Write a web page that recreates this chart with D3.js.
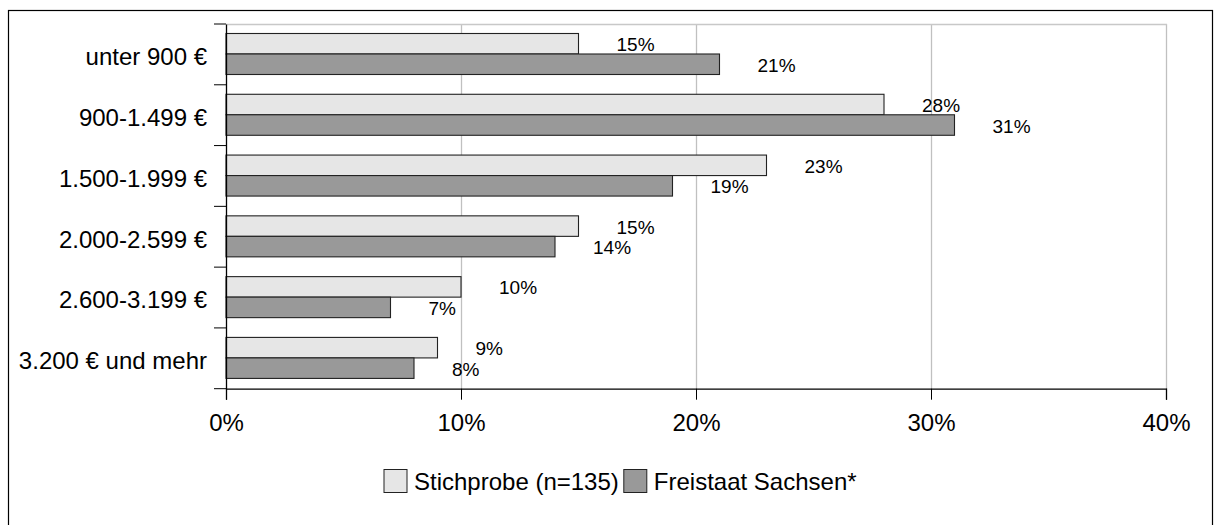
<!DOCTYPE html>
<html>
<head>
<meta charset="utf-8">
<script src="https://cdn.jsdelivr.net/npm/d3@7"></script>
<style>
  html, body { margin: 0; padding: 0; background: #fff; }
  svg { display: block; font-family: "Liberation Sans", Arial, sans-serif; }
</style>
</head>
<body>
<svg id="chart" width="1214" height="525"></svg>
<script>
const categories = ["unter 900 €", "900-1.499 €", "1.500-1.999 €", "2.000-2.599 €", "2.600-3.199 €", "3.200 € und mehr"];
const seriesNames = ["Stichprobe (n=135)", "Freistaat Sachsen*"];
const stichprobe = [15, 28, 23, 15, 10, 9];
const sachsen = [21, 31, 19, 14, 7, 8];
const xTicks = [0, 10, 20, 30, 40];

const colors = { "Stichprobe (n=135)": "#e6e6e6", "Freistaat Sachsen*": "#999999" };
const seriesValues = { "Stichprobe (n=135)": stichprobe, "Freistaat Sachsen*": sachsen };

const svg = d3.select("#chart");

// outer frame
svg.append("rect")
  .attr("x", 8.5).attr("y", 10.5).attr("width", 1204).attr("height", 520)
  .attr("fill", "none").attr("stroke", "#000").attr("stroke-width", 1.2);

const plot = { left: 226, right: 1166, top: 24, bottom: 388.7 };

const x = d3.scaleLinear().domain([0, 40]).range([plot.left, plot.right]);
const y = d3.scaleBand().domain(categories).range([plot.top, plot.bottom]).padding(0);
const yInner = d3.scaleBand().domain(seriesNames).range([9.5, 50.5]).padding(0);

// gridlines
svg.append("g").selectAll("line").data(xTicks.filter(d => d > 0)).join("line")
  .attr("x1", d => x(d) + 0.5).attr("x2", d => x(d) + 0.5)
  .attr("y1", plot.top).attr("y2", plot.bottom)
  .attr("stroke", "#c0c0c0").attr("stroke-width", 1.3);
// top plot line
svg.append("line")
  .attr("x1", plot.left).attr("x2", plot.right + 1)
  .attr("y1", plot.top + 0.5).attr("y2", plot.top + 0.5)
  .attr("stroke", "#c8c8c8").attr("stroke-width", 1.3);

// bars
const rows = [];
categories.forEach((c, i) => {
  seriesNames.forEach(s => rows.push({ cat: c, series: s, value: seriesValues[s][i] }));
});

svg.append("g").selectAll("rect").data(rows).join("rect")
  .attr("x", x(0))
  .attr("y", d => y(d.cat) + yInner(d.series))
  .attr("width", d => x(d.value) - x(0))
  .attr("height", yInner.bandwidth())
  .attr("fill", d => colors[d.series])
  .attr("stroke", "#222").attr("stroke-width", 1.1);

// value labels
svg.append("g").selectAll("text").data(rows).join("text")
  .attr("x", d => x(d.value) + 38)
  .attr("y", d => y(d.cat) + yInner(d.series) + yInner.bandwidth() / 2 + 1)
  .attr("dominant-baseline", "central")
  .attr("font-size", 19)
  .attr("fill", "#000")
  .text(d => d.value + "%");

// x axis
const xAxis = d3.axisBottom(x).tickValues(xTicks).tickFormat(d => d + "%").tickSize(11).tickPadding(14);
const gx = svg.append("g").attr("transform", `translate(0,${plot.bottom})`).call(xAxis);
gx.select(".domain").attr("stroke", "#000").attr("stroke-width", 1.3);
gx.selectAll(".tick line").attr("stroke", "#000").attr("stroke-width", 1);
gx.selectAll(".tick text").attr("font-size", 24).attr("fill", "#000").attr("font-family", "Liberation Sans, Arial, sans-serif");

// y axis
const yAxis = d3.axisLeft(y).tickSize(0).tickPadding(19);
const gy = svg.append("g").attr("transform", `translate(${plot.left},0)`).call(yAxis);
gy.select(".domain").attr("stroke", "#000").attr("stroke-width", 1.3);
gy.selectAll(".tick text").attr("font-size", 24).attr("fill", "#000").attr("dy", "0.45em").attr("font-family", "Liberation Sans, Arial, sans-serif");
// category boundary ticks
const bounds = categories.map(c => y(c)).concat([plot.bottom]);
svg.append("g").selectAll("line").data(bounds).join("line")
  .attr("x1", plot.left - 12).attr("x2", plot.left)
  .attr("y1", d => d).attr("y2", d => d)
  .attr("stroke", "#000").attr("stroke-width", 1);

// legend
const legend = svg.append("g");
let lx = 384;
const ly = 469.5;
seriesNames.forEach((s, i) => {
  legend.append("rect")
    .attr("x", lx).attr("y", ly).attr("width", 23).attr("height", 23)
    .attr("fill", colors[s]).attr("stroke", "#222").attr("stroke-width", 1);
  const t = legend.append("text")
    .attr("x", lx + 30).attr("y", ly + 12)
    .attr("dominant-baseline", "central")
    .attr("font-size", 24).attr("fill", "#000")
    .text(s);
  lx = lx + 30 + t.node().getComputedTextLength() + 5;
});
</script>
</body>
</html>
